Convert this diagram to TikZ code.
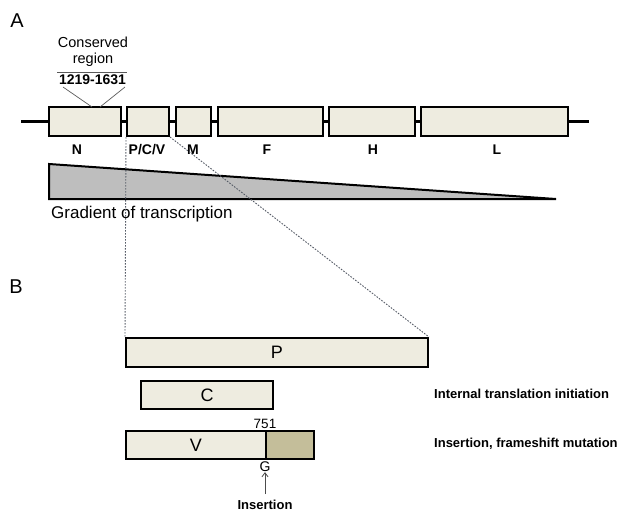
\documentclass[tikz,border=0pt]{standalone}
\usepackage{fontspec}
\setmainfont{Liberation Sans}
\usetikzlibrary{arrows.meta}
\definecolor{beige}{HTML}{EEECE0}
\definecolor{olivebox}{HTML}{C4BE9A}
\definecolor{trigray}{HTML}{BEBEBE}
\definecolor{dashgray}{HTML}{555B66}
\begin{document}
\begin{tikzpicture}[x=1pt,y=-1pt,
  gene/.style={draw=black, line width=2pt, fill=beige, minimum height=29pt, inner sep=0pt},
  orf/.style={draw=black, line width=2pt, fill=beige, minimum height=28pt, inner sep=0pt, font=\fontsize{18}{18}\selectfont},
  glabel/.style={font=\fontsize{14}{14}\selectfont\bfseries, inner sep=0pt},
  panel/.style={font=\fontsize{20}{20}\selectfont, inner sep=0pt},
  note/.style={font=\fontsize{13}{13}\selectfont\bfseries, inner sep=0pt, anchor=west},
  zoomline/.style={dashgray, line width=0.9pt, dash pattern=on 1.6pt off 1.4pt},
  thinline/.style={draw=black!65, line width=0.7pt},
  backbone/.style={line width=2.6pt}]
\useasboundingbox (0,0) rectangle (627,512);

% panel letters
\node[panel] (A) at (17,21) {A};
\node[panel] (B) at (16,287) {B};

% genome
\coordinate (start) at (21,121.5);
\coordinate (end) at (589,121.5);
\node[gene, minimum width=72pt] (N) at (85,121.5) {};
\node[gene, minimum width=42pt] (PCV) at (148,121.5) {};
\node[gene, minimum width=35pt] (M) at (193.5,121.5) {};
\node[gene, minimum width=105pt] (F) at (270.5,121.5) {};
\node[gene, minimum width=86pt] (H) at (372,121.5) {};
\node[gene, minimum width=147pt] (L) at (494.5,121.5) {};
\draw[backbone] (start) -- (N.west);
\draw[backbone] (N.east) -- (PCV.west);
\draw[backbone] (PCV.east) -- (M.west);
\draw[backbone] (M.east) -- (F.west);
\draw[backbone] (F.east) -- (H.west);
\draw[backbone] (H.east) -- (L.west);
\draw[backbone] (L.east) -- (end);

% gene labels
\node[glabel] (lN) at (77,150) {N};
\node[glabel] (lPCV) at (147,150) {P/C/V};
\node[glabel] (lM) at (193,150) {M};
\node[glabel] (lF) at (267,150) {F};
\node[glabel] (lH) at (373,150) {H};
\node[glabel] (lL) at (497,150) {L};

% conserved region
\node[font=\fontsize{14.5}{16}\selectfont, inner sep=0pt, align=center] (cons) at (93,52) {Conserved\\region};
\node[font=\fontsize{14}{14}\selectfont\bfseries, inner sep=0pt] (range) at (92.5,80) {1219-1631};
\coordinate (ctl) at (57,72);
\coordinate (ctr) at (127,72);
\coordinate (cbl) at (63,87);
\coordinate (cbr) at (125,87);
\coordinate (cpl) at (92,107);
\coordinate (cpr) at (100,107);
\draw[thinline] (ctl) -- (ctr);
\draw[thinline] (cbl) -- (cpl);
\draw[thinline] (cbr) -- (cpr);

% gradient
\draw[fill=trigray, line width=2pt, line join=miter] (49,164) -- (556,199) -- (49,199) -- cycle;
\node[font=\fontsize{17}{17}\selectfont, inner sep=0pt, anchor=west] (grad) at (51,214) {Gradient of transcription};

% panel B
\node[orf, minimum width=302pt, minimum height=29pt] (P) at (277,352.5) {P};
\node[orf, minimum width=132pt] (C) at (207,395) {C};
\node[orf, minimum width=140pt] (V) at (196,445) {V};
\node[orf, minimum width=48pt, fill=olivebox] (Vx) at (290,445) {};
\node[font=\fontsize{13.5}{13.5}\selectfont, inner sep=0pt] (n751) at (265,424) {751};
\node[font=\fontsize{14}{14}\selectfont, inner sep=0pt] (G) at (265,467) {G};
\node[font=\fontsize{13}{13}\selectfont\bfseries, inner sep=0pt] (ins) at (265,505) {Insertion};
\draw[black!70, line width=0.8pt, -{Straight Barb[length=4pt,width=6pt]}] (265,494) -- (G.south);

\node[note] (t1) at (434,394) {Internal translation initiation};
\node[note] (t2) at (434,444) {Insertion, frameshift mutation};

% zoom lines
\draw[zoomline] (PCV.south west) -- (P.north west);
\draw[zoomline] (PCV.south east) -- (P.north east);
\end{tikzpicture}
\end{document}
